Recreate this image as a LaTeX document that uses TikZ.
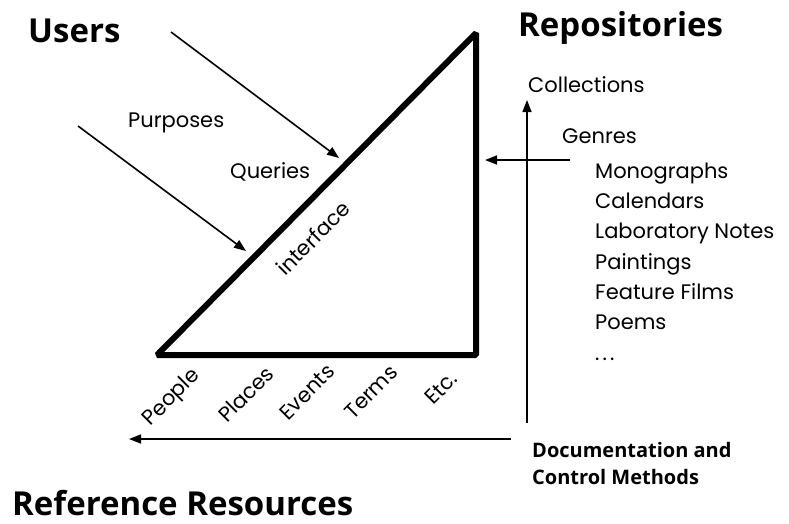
\documentclass[tikz,border=0pt]{standalone}
\usepackage{fontspec}
\setmainfont{Poppins}
\newfontfamily\headfont{Open Sans}
\usetikzlibrary{arrows.meta}

\begin{document}
\begin{tikzpicture}[%
  >={Triangle[length=12pt,width=9pt]},
  x=1pt, y=-1pt,
  head/.style={font=\headfont\bfseries\fontsize{33}{36}\selectfont, inner sep=0pt},
  subhead/.style={font=\headfont\bfseries\fontsize{20}{27}\selectfont, inner sep=0pt, align=left},
  lbl/.style={font=\fontsize{21}{30.3}\selectfont, inner sep=0pt},
  frame/.style={line width=6pt, line join=bevel},
  link/.style={->, line width=1.6pt},
]

  \useasboundingbox (0,0) rectangle (789,523);

  % triangle corners
  \coordinate (bl) at (157,355);
  \coordinate (br) at (476,355);
  \coordinate (tp) at (476,33);

  % arrow ends
  \coordinate (q0) at (171,32);
  \coordinate (q1) at (339,158);
  \coordinate (p0) at (78,126);
  \coordinate (p1) at (246,251);
  \coordinate (g0) at (570,160);
  \coordinate (g1) at (485,160);
  \coordinate (c0) at (527,423);
  \coordinate (c1) at (527,100);
  \coordinate (d0) at (511,439);
  \coordinate (d1) at (129,439);

  \draw[frame] (bl) -- (tp) -- (br) -- cycle;

  \draw[link] (q0) -- (q1);
  \draw[link] (p0) -- (p1);
  \draw[link] (g0) -- (g1);
  \draw[link] (c0) -- (c1);
  \draw[link] (d0) -- (d1);

  \node[head, anchor=base west] (users) at (28,42) {Users};
  \node[head, anchor=base west] (repos) at (518,36) {Repositories};
  \node[head, anchor=base west] (refres) at (12,515) {Reference Resources};
  % multi-line nodes sit on their last line
  \node[subhead, anchor=base west] (docs) at (532,484) {Documentation and\\Control Methods};

  \node[lbl, anchor=base west] (purposes) at (128,127) {Purposes};
  \node[lbl, anchor=base west] (queries) at (230,178) {Queries};
  \node[lbl, rotate=45] (iface) at (313,238) {interface};

  \node[lbl, anchor=base west] (colls) at (528,92) {Collections};
  \node[lbl, anchor=base west] (genres) at (562,143) {Genres};
  \node[lbl, anchor=base west, align=left] (genrelist) at (595,360)
    {Monographs\\Calendars\\Laboratory Notes\\Paintings\\Feature Films\\Poems\\.\hspace{3pt}.\hspace{3pt}.};

  \node[lbl, rotate=45] (people) at (172,398) {People};
  \node[lbl, rotate=45] (places) at (246,394) {Places};
  \node[lbl, rotate=45] (events) at (307,392) {Events};
  \node[lbl, rotate=45] (terms) at (371,392) {Terms};
  \node[lbl, rotate=45] (etc) at (441,388) {Etc.};

\end{tikzpicture}
\end{document}
